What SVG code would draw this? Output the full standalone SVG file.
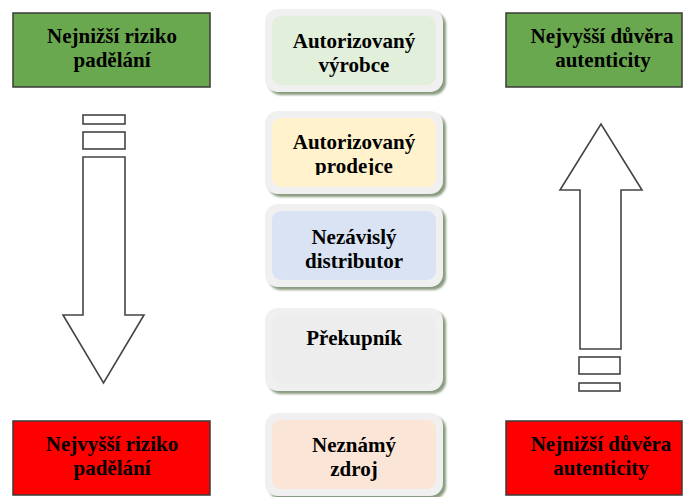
<svg xmlns="http://www.w3.org/2000/svg" width="684" height="497" viewBox="0 0 684 497" font-family="'Liberation Serif', 'DejaVu Serif', serif">
  <defs>
    <style>
      .lbl { font-family: 'Liberation Serif', 'DejaVu Serif', serif; font-weight: bold; font-size: 21px; fill: #000; text-anchor: middle; }
      .side { stroke: #3a3a3a; stroke-width: 1.5; }
      .green { fill: #6aa84f; }
      .red { fill: #ff0000; }
      .arrow { fill: #ffffff; stroke: #444; stroke-width: 1.6; stroke-linejoin: miter; }
      .shadow { fill: #8a9c80; }
      .frame { fill: #f0f0f0; }
    </style>
    <filter id="soft" x="-10%" y="-10%" width="120%" height="130%">
      <feGaussianBlur stdDeviation="1"/>
    </filter>
    <clipPath id="clipProdejce">
      <rect x="270" y="115" width="170" height="60"/>
    </clipPath>
  </defs>

  <rect width="684" height="497" fill="#ffffff"/>

  <!-- side labels -->
  <g id="low-risk">
    <rect class="side green" x="13" y="13" width="197" height="74"/>
    <text class="lbl" x="112" y="43">Nejnižší riziko</text>
    <text class="lbl" x="112" y="67">padělání</text>
  </g>
  <g id="high-trust">
    <rect class="side green" x="506" y="13" width="176" height="74"/>
    <text class="lbl" x="602" y="43">Nejvyšší důvěra</text>
    <text class="lbl" x="603" y="67">autenticity</text>
  </g>
  <g id="high-risk">
    <rect class="side red" x="13" y="421" width="197" height="74"/>
    <text class="lbl" x="112" y="451">Nejvyšší riziko</text>
    <text class="lbl" x="112" y="475">padělání</text>
  </g>
  <g id="low-trust">
    <rect class="side red" x="506" y="421" width="176" height="74"/>
    <text class="lbl" x="601" y="451">Nejnižší důvěra</text>
    <text class="lbl" x="601" y="475">autenticity</text>
  </g>

  <!-- supply chain stages -->
  <g id="stage-manufacturer">
    <rect class="shadow" x="268" y="12" width="178" height="83" rx="13" filter="url(#soft)"/>
    <rect class="frame" x="265" y="9" width="178" height="83" rx="13"/>
    <rect x="272" y="16" width="164" height="69" rx="9" fill="#e2efda"/>
    <text class="lbl" x="354" y="48">Autorizovaný</text>
    <text class="lbl" x="354" y="72">výrobce</text>
  </g>
  <g id="stage-dealer">
    <rect class="shadow" x="268" y="114" width="178" height="83" rx="13" filter="url(#soft)"/>
    <rect class="frame" x="265" y="111" width="178" height="83" rx="13"/>
    <rect x="272" y="118" width="164" height="69" rx="9" fill="#fff2cc"/>
    <g clip-path="url(#clipProdejce)">
      <text class="lbl" x="354" y="149">Autorizovaný</text>
      <text class="lbl" x="354" y="173">prodejce</text>
    </g>
  </g>
  <g id="stage-distributor">
    <rect class="shadow" x="268" y="207" width="178" height="83" rx="13" filter="url(#soft)"/>
    <rect class="frame" x="265" y="204" width="178" height="83" rx="13"/>
    <rect x="272" y="211" width="164" height="69" rx="9" fill="#dae3f3"/>
    <text class="lbl" x="354" y="244">Nezávislý</text>
    <text class="lbl" x="354" y="268">distributor</text>
  </g>
  <g id="stage-reseller">
    <rect class="shadow" x="268" y="311" width="178" height="83" rx="13" filter="url(#soft)"/>
    <rect class="frame" x="265" y="308" width="178" height="83" rx="13"/>
    <rect x="272" y="315" width="164" height="69" rx="9" fill="#ededed"/>
    <text class="lbl" x="354" y="345">Překupník</text>
  </g>
  <g id="stage-unknown">
    <rect class="shadow" x="268" y="416" width="178" height="83" rx="13" filter="url(#soft)"/>
    <rect class="frame" x="265" y="413" width="178" height="83" rx="13"/>
    <rect x="272" y="420" width="164" height="69" rx="9" fill="#fbe5d6"/>
    <text class="lbl" x="354" y="452">Neznámý</text>
    <text class="lbl" x="354" y="476">zdroj</text>
  </g>

  <!-- trend arrows -->
  <g id="connectors">
    <g id="arrow-down">
      <rect class="arrow" x="83" y="115" width="42" height="9"/>
      <rect class="arrow" x="83" y="132" width="42" height="17"/>
      <path class="arrow" d="M83,157 H125 V315 H144 L103.5,383 L63,315 H83 Z"/>
    </g>
    <g id="arrow-up">
      <path class="arrow" d="M580,349 V190 H560 L601,124 L642,190 H621 V349 Z"/>
      <rect class="arrow" x="579" y="357" width="41" height="17"/>
      <rect class="arrow" x="579" y="383" width="41" height="8"/>
    </g>
  </g>
</svg>
